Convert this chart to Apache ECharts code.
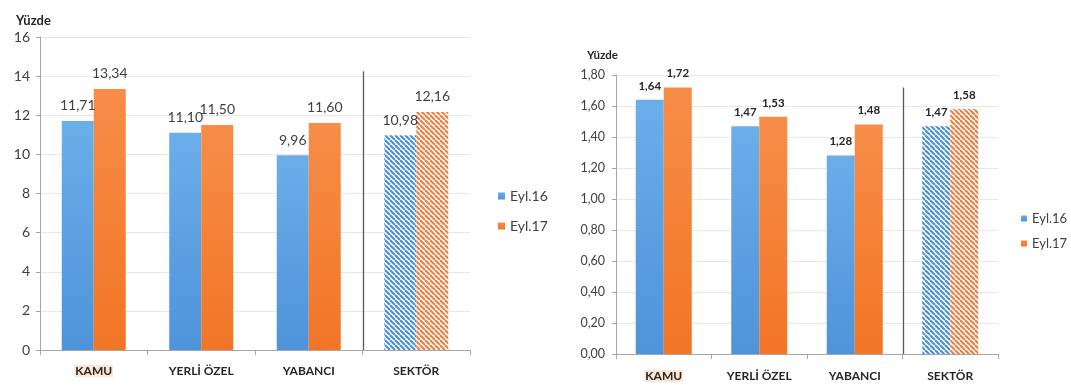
<!DOCTYPE html>
<html>
<head>
<meta charset="utf-8">
<script src="https://cdn.jsdelivr.net/npm/echarts@6/dist/echarts.min.js"></script>
<style>
html,body{margin:0;padding:0;background:#fff;}
#c{width:1071px;height:385px;}
</style>
</head>
<body>
<div id="c"></div>
<script>
const categories = ['KAMU', 'YERLİ ÖZEL', 'YABANCI', 'SEKTÖR'];
const seriesNames = ['Eyl.16', 'Eyl.17'];
const leftEyl16 = [11.71, 11.10, 9.96, 10.98];
const leftEyl17 = [13.34, 11.50, 11.60, 12.16];
const rightEyl16 = [1.64, 1.47, 1.28, 1.47];
const rightEyl17 = [1.72, 1.53, 1.48, 1.58];
const leftAxis = [0, 16, 2];      // min, max, interval
const rightAxis = [0, 1.8, 0.2];  // min, max, interval
const axisTitle = 'Yüzde';

const FONT = 'Lato, "Open Sans", sans-serif';
const comma = (v, d) => Number(v).toFixed(d).replace('.', ',');

function hatch(color) {
  const c = document.createElement('canvas');
  const s = 5;
  c.width = s; c.height = s;
  const g = c.getContext('2d');
  g.fillStyle = '#ffffff';
  g.fillRect(0, 0, s, s);
  g.strokeStyle = color;
  g.lineWidth = 2.1;
  for (let k = -1; k <= 1; k++) {
    g.beginPath();
    g.moveTo(k * s, 0);
    g.lineTo(k * s + s, s);
    g.stroke();
  }
  return c;
}
const blueGrad = new echarts.graphic.LinearGradient(0, 0, 0, 1, [
  { offset: 0, color: '#6aaeea' }, { offset: 1, color: '#4f93da' }]);
const orangeGrad = new echarts.graphic.LinearGradient(0, 0, 0, 1, [
  { offset: 0, color: '#f78d48' }, { offset: 1, color: '#f27526' }]);
const bluePat = { image: hatch('#4a8fd8'), repeat: 'repeat' };
const orangePat = { image: hatch('#ec8042'), repeat: 'repeat' };

function mkData(arr, pat) {
  return arr.map((v, i) => i === categories.length - 1 ? { value: v, itemStyle: { color: pat } } : v);
}

function xAxisCfg(gridIndex, fs, margin) {
  return {
    type: 'category', gridIndex, data: categories,
    axisLine: { lineStyle: { color: '#a6a6a6', width: 1 } },
    axisTick: { show: true, length: 5, lineStyle: { color: '#a6a6a6' } },
    axisLabel: {
      margin, color: '#262626', fontFamily: FONT, fontWeight: 'bold', fontSize: fs,
      formatter: (v) => v === categories[0] ? '{hl|' + v + '}' : v,
      rich: { hl: { backgroundColor: '#fde6d3', color: '#262626', fontFamily: FONT, fontWeight: 'bold', fontSize: fs, padding: [0, 1, 0, 1] } }
    }
  };
}
function yAxisCfg(gridIndex, ax, fs, dec, margin) {
  return {
    type: 'value', gridIndex, min: ax[0], max: ax[1], interval: ax[2],
    axisLine: { show: true, lineStyle: { color: '#a6a6a6' } },
    axisTick: { show: true, length: 4, lineStyle: { color: '#a6a6a6' } },
    splitLine: { lineStyle: { color: '#e8e8e8' } },
    axisLabel: { margin, color: '#404040', fontFamily: FONT, fontSize: fs, formatter: (v) => comma(v, dec) }
  };
}
function barSeries(name, xi, data, color, bw, labelStyle, dec, dist) {
  return {
    type: 'bar', name, xAxisIndex: xi, yAxisIndex: xi, data,
    barWidth: bw, barGap: '0%',
    itemStyle: { color },
    label: Object.assign({ show: true, position: 'top', distance: dist, fontFamily: FONT, formatter: (p) => comma(p.value, dec) }, labelStyle)
  };
}

const chart = echarts.init(document.getElementById('c'), null, { renderer: 'canvas' });
const leftLabel = { color: '#404040', fontSize: 14 };
const rightLabel = { color: '#262626', fontSize: 11.5, fontWeight: 'bold' };

chart.setOption({
  animation: false,
  textStyle: { fontFamily: FONT },
  title: [
    { text: axisTitle, left: 11, top: 9, textStyle: { fontFamily: FONT, fontSize: 13, fontWeight: 'bold', color: '#262626' } },
    { text: axisTitle, left: 582, top: 44, textStyle: { fontFamily: FONT, fontSize: 11.5, fontWeight: 'bold', color: '#262626' } }
  ],
  legend: [
    { orient: 'vertical', left: 493, top: 184, itemWidth: 7, itemHeight: 7, itemGap: 16, icon: 'rect', itemGap: 16,
      data: seriesNames, textStyle: { fontFamily: FONT, fontSize: 14, color: '#404040' } },
    { orient: 'vertical', left: 1016, top: 207, itemWidth: 6, itemHeight: 6, itemGap: 12, icon: 'rect',
      data: seriesNames, textStyle: { fontFamily: FONT, fontSize: 13, color: '#404040' } }
  ],
  grid: [
    { left: 40, top: 37, width: 430, height: 313 },
    { left: 616, top: 75, width: 382, height: 279 }
  ],
  xAxis: [xAxisCfg(0, 12, 15), xAxisCfg(1, 12, 16)],
  yAxis: [yAxisCfg(0, leftAxis, 14, 0, 10), yAxisCfg(1, rightAxis, 12.5, 2, 11)],
  series: [
    barSeries(seriesNames[0], 0, mkData(leftEyl16, bluePat), blueGrad, 32, leftLabel, 2, 8),
    barSeries(seriesNames[1], 0, mkData(leftEyl17, orangePat), orangeGrad, 32, leftLabel, 2, 9),
    barSeries(seriesNames[0], 1, mkData(rightEyl16, bluePat), blueGrad, 28, rightLabel, 2, 8),
    barSeries(seriesNames[1], 1, mkData(rightEyl17, orangePat), orangeGrad, 28, rightLabel, 2, 8)
  ]
});

function sepLine(i, topVal) {
  const a = chart.convertToPixel({ xAxisIndex: i }, categories[2]);
  const b = chart.convertToPixel({ xAxisIndex: i }, categories[3]);
  const x = Math.round((a + b) / 2) + 0.5;
  const y1 = chart.convertToPixel({ yAxisIndex: i }, topVal);
  const y2 = chart.convertToPixel({ yAxisIndex: i }, 0);
  return { type: 'line', shape: { x1: x, y1, x2: x, y2 }, style: { stroke: '#595959', lineWidth: 1.3 }, z: 10 };
}
chart.setOption({ graphic: [sepLine(0, 14.25), sepLine(1, 1.72)] });
</script>
</body>
</html>
